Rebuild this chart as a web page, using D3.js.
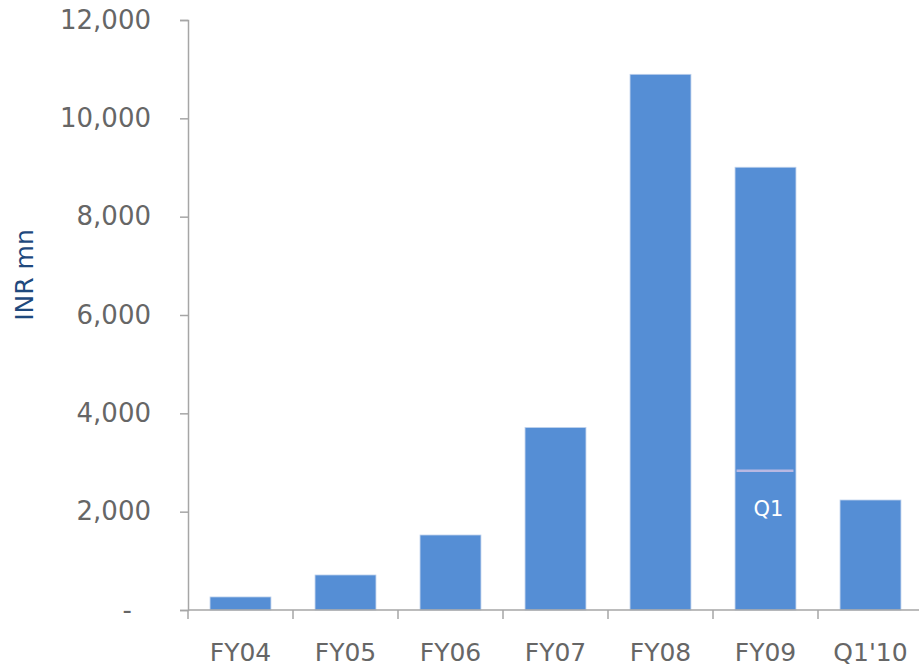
<!DOCTYPE html>
<html>
<head>
<meta charset="utf-8">
<script src="https://cdn.jsdelivr.net/npm/d3@7"></script>
<style>
  html, body { margin: 0; padding: 0; background: #fff; }
  svg { display: block; }
</style>
</head>
<body>
<svg id="chart" width="919" height="671"></svg>
<script>
// Annual values, INR mn
const categories = ["FY04", "FY05", "FY06", "FY07", "FY08", "FY09", "Q1'10"];
const values = [265, 712, 1525, 3710, 10895, 9005, 2237];
const yTicks = [0, 2000, 4000, 6000, 8000, 10000, 12000];
// First-quarter marker inside the FY09 bar
const q1Category = "FY09";
const q1Value = 2830;
const q1Label = "Q1";
const yTitle = "INR mn";

const svg = d3.select("#chart");
const axisColor = "#a6a6a6";
const textColor = "#666666";
const barColor = "#558ed5";

const plotLeft = 188, plotRight = 923, plotTop = 20, plotBottom = 610;

const x = d3.scaleBand()
  .domain(categories)
  .range([plotLeft, plotRight])
  .paddingInner(0.42)
  .paddingOuter(0.21);

const y = d3.scaleLinear()
  .domain([0, 12000])
  .range([plotBottom, plotTop]);

// Bars
svg.append("g")
  .selectAll("rect")
  .data(categories)
  .join("rect")
  .attr("x", d => x(d))
  .attr("width", x.bandwidth())
  .attr("y", (d, i) => y(values[i]))
  .attr("height", (d, i) => y(0) - y(values[i]))
  .attr("fill", barColor)
  .attr("stroke", "#bcd0ec")
  .attr("stroke-width", 0.8);

// Q1 marker line and label
const qx = x(q1Category);
svg.append("line")
  .attr("x1", qx + 1.5)
  .attr("x2", qx + x.bandwidth() - 2.5)
  .attr("y1", y(q1Value))
  .attr("y2", y(q1Value))
  .attr("stroke", "#b8b8e2")
  .attr("stroke-width", 2.5);
svg.append("text")
  .attr("x", qx + x.bandwidth() / 2 + 3)
  .attr("y", y(q1Value) + 45)
  .attr("text-anchor", "middle")
  .attr("fill", "#ffffff")
  .style("font-family", "DejaVu Sans")
  .style("font-size", "21px")
  .text(q1Label);

// Y axis
const yAxis = svg.append("g")
  .attr("transform", `translate(${plotLeft},0)`)
  .call(d3.axisLeft(y)
    .tickValues(yTicks)
    .tickSize(8)
    .tickPadding(29)
    .tickFormat(d => d === 0 ? "-" : d3.format(",")(d)));
yAxis.select(".domain").attr("stroke", axisColor).attr("stroke-width", 1.5);
yAxis.selectAll(".tick line").attr("stroke", axisColor).attr("stroke-width", 1.5);
yAxis.selectAll(".tick text")
  .attr("fill", textColor)
  .style("font-family", "DejaVu Sans")
  .style("font-size", "26px")
  .attr("dx", d => d === 0 ? -19 : 0);

// X axis: baseline with ticks at category boundaries
const xAxis = svg.append("g");
xAxis.append("line")
  .attr("x1", plotLeft).attr("x2", plotRight)
  .attr("y1", plotBottom).attr("y2", plotBottom)
  .attr("stroke", axisColor).attr("stroke-width", 1.5);
const boundaries = categories.map(c => x(c) - x.step() * x.paddingOuter());
xAxis.selectAll("line.b")
  .data(boundaries)
  .join("line")
  .attr("class", "b")
  .attr("x1", d => d).attr("x2", d => d)
  .attr("y1", plotBottom).attr("y2", plotBottom + 9)
  .attr("stroke", axisColor).attr("stroke-width", 1.5);
xAxis.selectAll("text")
  .data(categories)
  .join("text")
  .attr("x", d => x(d) + x.bandwidth() / 2)
  .attr("y", plotBottom + 51)
  .attr("text-anchor", "middle")
  .attr("fill", textColor)
  .style("font-family", "DejaVu Sans")
  .style("font-size", "25px")
  .text(d => d);

// Y axis title
svg.append("text")
  .attr("transform", `translate(33,${275}) rotate(-90)`)
  .attr("text-anchor", "middle")
  .attr("fill", "#1f497d")
  .style("font-family", "DejaVu Sans")
  .style("font-size", "25px")
  .text(yTitle);
</script>
</body>
</html>
